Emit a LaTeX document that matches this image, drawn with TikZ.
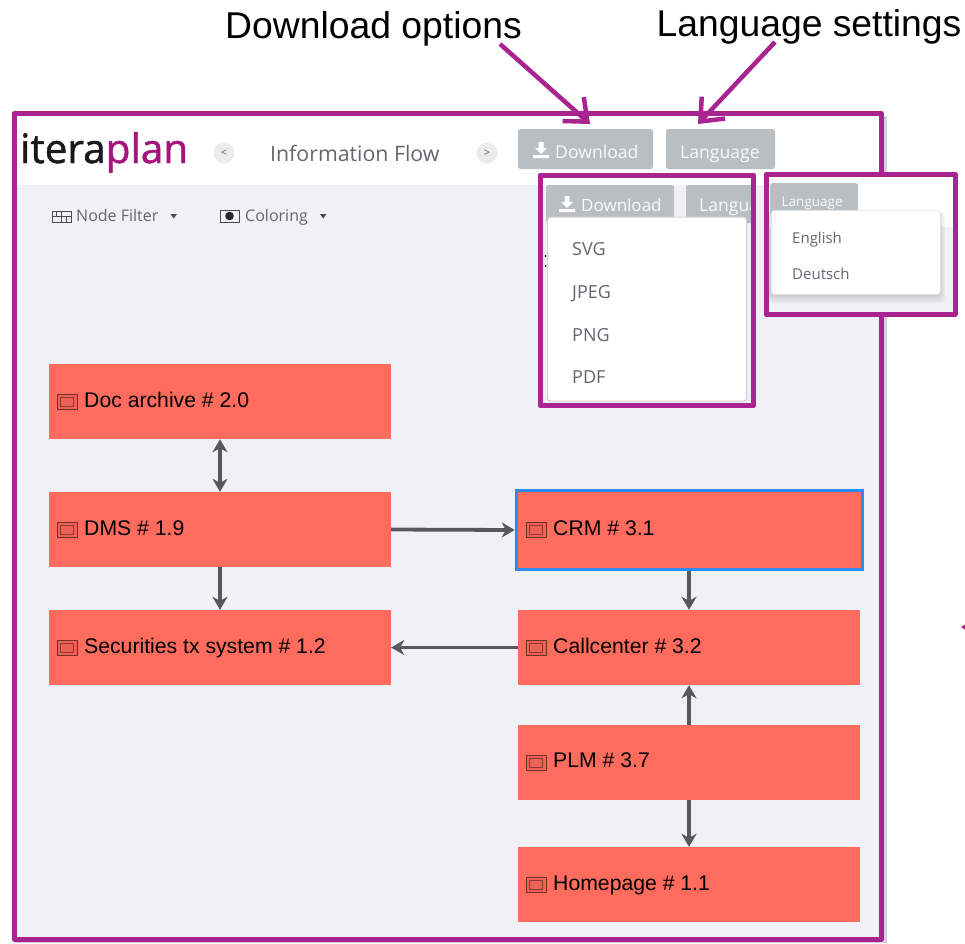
\documentclass[tikz,border=0pt]{standalone}
\usepackage{fontspec}
\setmainfont{Liberation Sans}
\newfontfamily\uifont{Open Sans}
\newfontfamily\logofont[FakeBold=1.2]{Open Sans}
\usetikzlibrary{arrows.meta,calc}
\definecolor{purp}{HTML}{A92391}
\definecolor{plan}{HTML}{A5147C}
\definecolor{pagebg}{HTML}{EFF1F7}
\definecolor{sysred}{HTML}{FF6B5C}
\definecolor{flow}{HTML}{55585C}
\definecolor{btn}{HTML}{B9BEC2}
\definecolor{uitext}{HTML}{63666B}
\definecolor{selblue}{HTML}{2A8CF0}
\definecolor{edge}{HTML}{D6CFDD}
\tikzset{
  x=1pt,y=-1pt,
  frame/.style={draw=purp,line width=5pt,line join=round},
  sys/.style={fill=sysred,draw=none,inner sep=0pt,minimum height=75pt,minimum width=342pt},
  lab/.style={anchor=base west,inner sep=0pt,font=\fontsize{21.2}{24}\selectfont,text=black},
  icon/.style={draw=black!55!sysred,fill=black!8!sysred,line width=0.9pt,minimum width=20pt,minimum height=15pt,inner sep=0pt,
    path picture={\draw[black!45!sysred,line width=0.7pt] ($(path picture bounding box.south west)+(3.5,-3)$) rectangle ($(path picture bounding box.north east)+(-3.5,3)$);}},
  conn/.style={draw=flow,line width=3.8pt,-{Stealth[length=13pt,width=15pt,inset=4pt]}},
  conn2/.style={draw=flow,line width=3.8pt,{Stealth[length=13pt,width=15pt,inset=4pt]}-{Stealth[length=13pt,width=15pt,inset=4pt]}},
  callout/.style={draw=purp,line width=4.5pt,-{Straight Barb[length=19pt,width=32pt,line width=4.5pt]}},
  anno/.style={anchor=base,inner sep=0pt,font=\fontsize{37.3}{42}\selectfont,text=black},
  uibtn/.style={fill=btn,rounded corners=2.5pt,draw=none,inner sep=0pt},
  btntext/.style={anchor=base west,inner sep=0pt,text=white!92!btn,font=\uifont\fontsize{17.6}{20}\selectfont},
  menu/.style={fill=white,draw=black!12,line width=0.6pt,rounded corners=3pt,inner sep=0pt},
  menuitem/.style={anchor=base west,inner sep=0pt,text=uitext,font=\uifont\fontsize{18}{20}\selectfont},
  uilabel/.style={anchor=base west,inner sep=0pt,text=uitext,font=\uifont\fontsize{16}{18}\selectfont},
  roundbtn/.style={circle,fill=black!8,minimum size=21pt,inner sep=0pt,text=uitext,font=\uifont\fontsize{11}{12}\selectfont},
}
\newcommand{\dlicon}[3]{% centre x, centre y, scale
  \fill[white,shift={(#1,#2)},scale=#3] (-2.5,-8) -- (2.5,-8) -- (2.5,-2) -- (6,-2) -- (0,4) -- (-6,-2) -- (-2.5,-2) -- cycle (-8,5) rectangle (8,8);
}
\begin{document}
\begin{tikzpicture}
\useasboundingbox (0,0) rectangle (965,943);
\fill[white] (0,0) rectangle (965,943);
% window
\fill[edge] (881,116) rectangle (887,943);
\fill[edge] (14,939) rectangle (887,943);
\fill[pagebg] (16,185) rectangle (881,937);
\fill[white] (16,115) rectangle (881,185);
% header
\node[anchor=base west,inner sep=0pt,font=\logofont\fontsize{40.5}{44}\selectfont] (logo) at (20,163) {\textcolor{black!90}{itera}\textcolor{plan}{plan}};
\node[roundbtn] (prev) at (224,153) {<};
\node[uilabel,font=\uifont\fontsize{21.3}{24}\selectfont] (title) at (270,161.5) {Information Flow};
\node[roundbtn] (next) at (487,153) {>};
\node[uibtn,minimum width=135pt,minimum height=40pt] (dlbtn) at (585.5,149) {};
\node[btntext] (dltext) at (555,158) {Download};
\dlicon{541}{150}{1}
\node[uibtn,minimum width=109pt,minimum height=40pt] (langbtn) at (720.5,149) {};
\node[btntext] (langtext) at (680,158) {Language};
% toolbar
\node[uilabel] (nodefilter) at (76,221.5) {Node Filter};
\draw[black!70,line width=0.8pt] (52,211) rectangle (71,222) (52,216.5) -- (71,216.5) (61.5,211) -- (61.5,222) (56,211) -- (56,216.5) (66,216.5) -- (66,222);
\fill[black!70] (170.5,214) -- (177,214) -- (173.7,218.5) -- cycle;
\node[uilabel] (coloring) at (245,221.5) {Coloring};
\draw[black!70,line width=0.8pt] (220,210.5) rectangle (239,222);
\fill[black!85] (229.5,216) circle (4.3pt);
\fill[black!70] (320,214) -- (326.5,214) -- (323.2,218.5) -- cycle;
% systems
\node[sys] (doc) at (220,401.5) {};
\node[sys] (dms) at (220,529.5) {};
\node[sys] (sec) at (220,647.5) {};
\node[sys,draw=selblue,line width=3.5pt,minimum width=346pt,minimum height=79pt] (crm) at (689.5,530) {};
\node[sys] (call) at (689,647.5) {};
\node[sys] (plm) at (689,762.5) {};
\node[sys] (home) at (689,884.5) {};
\node[icon] (i1) at (67,402) {};
\node[icon] (i2) at (67,529.5) {};
\node[icon] (i3) at (67,647.5) {};
\node[icon] (i4) at (536,530) {};
\node[icon] (i5) at (536,647.5) {};
\node[icon] (i6) at (536,762.5) {};
\node[icon] (i7) at (536,884.5) {};
\node[lab] (l1) at (84,407.5) {Doc archive \# 2.0};
\node[lab] (l2) at (84,535) {DMS \# 1.9};
\node[lab] (l3) at (84,653) {Securities tx system \# 1.2};
\node[lab] (l4) at (553,535) {CRM \# 3.1};
\node[lab] (l5) at (553,653) {Callcenter \# 3.2};
\node[lab] (l6) at (553,767.5) {PLM \# 3.7};
\node[lab] (l7) at (553,890) {Homepage \# 1.1};
% flows
\draw[conn2] (doc.south) -- (dms.north);
\draw[conn] (dms.south) -- (sec.north);
\draw[conn] (dms.east) -- (crm.west);
\draw[conn] (crm.south -| call.north) -- (call.north);
\draw[conn] (call.west) -- (sec.east);
\draw[conn] (plm.north) -- (call.south);
\draw[conn] (plm.south) -- (home.north);
% main frame
\draw[frame] (14,113.5) rectangle (881,939);
% download panel
\begin{scope}
\clip (540,175) rectangle (753.5,405.5);
\fill[white] (540,175) rectangle (753.5,185);
\fill[pagebg] (540,185) rectangle (753.5,405.5);
\node[uibtn,minimum width=128pt,minimum height=38pt] (dlbtn2) at (610,204) {};
\node[uibtn,minimum width=100pt,minimum height=38pt] (langbtn2) at (736,204) {};
\node[btntext,font=\uifont\fontsize{17}{20}\selectfont] (dltext2) at (581,211) {Download};
\dlicon{567}{204}{1}
\node[btntext,font=\uifont\fontsize{17.6}{20}\selectfont] (langtext2) at (699,211) {Language};
\fill[black] (545.5,256) circle (1pt) (545.5,266) circle (1pt);
\node[menu,minimum width=199pt,minimum height=184pt,anchor=north west,draw=black!18,line width=1.2pt] (dlmenu) at (547,216.5) {};
\end{scope}
\node[menuitem] (svg) at (572,255) {SVG};
\node[menuitem] (jpeg) at (572,298) {JPEG};
\node[menuitem] (png) at (572,341) {PNG};
\node[menuitem] (pdf) at (572,383) {PDF};
\draw[frame] (540,175) rectangle (753.5,405.5);
% language panel
\fill[white] (766,174) rectangle (955,227);
\fill[pagebg] (766,227) rectangle (955,314.5);
\node[uibtn,minimum width=88pt,minimum height=32pt,anchor=north west] (langbtn3) at (770,183) {};
\node[btntext,font=\uifont\fontsize{13.5}{15}\selectfont] (langtext3) at (781.5,206) {Language};
\foreach \g in {8,6,4,2}{
  \fill[black,opacity=0.035,rounded corners=5pt] (771-\g*0.6,212) rectangle (940+\g*0.6,294+\g+1);
}
\node[menu,minimum width=169pt,minimum height=84pt,anchor=north west] (langmenu) at (771,210) {};
\node[menuitem,font=\uifont\fontsize{15}{17}\selectfont] (english) at (792,243) {English};
\node[menuitem,font=\uifont\fontsize{15}{17}\selectfont] (deutsch) at (792,279.5) {Deutsch};
\draw[frame] (766,174) rectangle (955,314.5);
% callouts
\node[anno] (dlopt) at (373.5,38) {Download options};
\node[anno] (langset) at (809,36) {Language settings};
\coordinate (a1s) at (500,44);
\coordinate (a1e) at (590,124);
\coordinate (a2s) at (775,42);
\coordinate (a2e) at (698,124);
\draw[callout] (a1s) -- (a1e);
\draw[callout] (a2s) -- (a2e);
\fill[purp] (961,627) -- (965,624.5) -- (965,629.5) -- cycle;
\end{tikzpicture}
\end{document}
